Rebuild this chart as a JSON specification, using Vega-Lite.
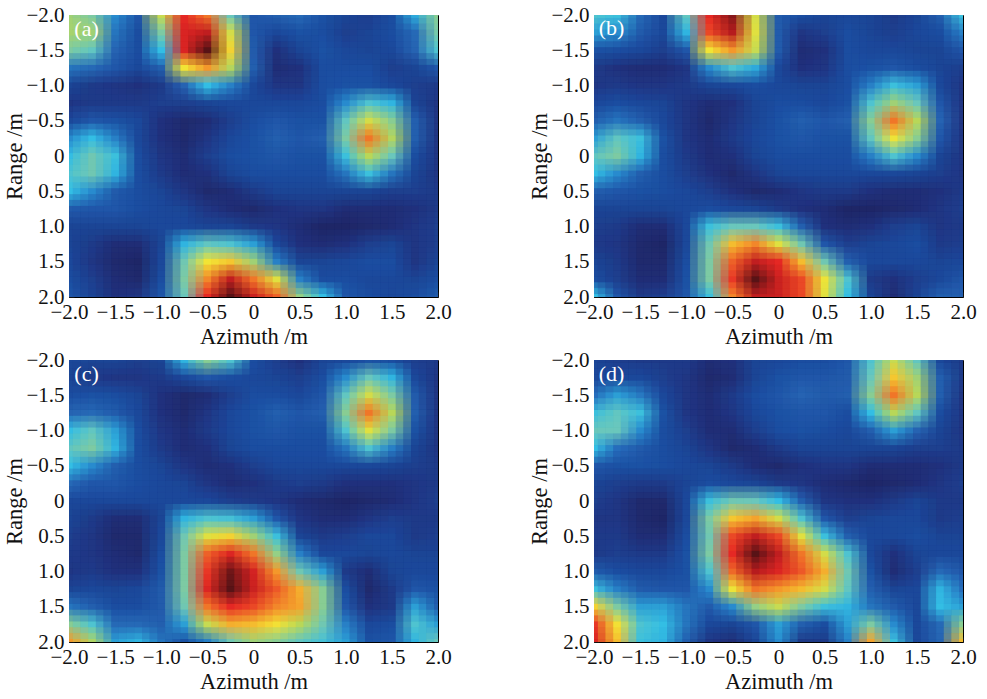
{"$schema":"https://vega.github.io/schema/vega-lite/v6.json","background":"white","padding":{"left":3,"top":3,"right":4,"bottom":2},"bounds":"flush","columns":2,"spacing":{"row":63,"column":156},
"config":{"view":{"stroke":"black","strokeWidth":1},"font":"Liberation Serif","axis":{"grid":false,"domain":false,"tickColor":"#111","tickSize":-5,"tickWidth":1,"labelFont":"Liberation Serif","labelFontSize":21,"labelColor":"#111","titleFont":"Liberation Serif","titleFontSize":22.5,"titleFontWeight":"normal","titleColor":"#111","labelOverlap":false,"labelFlush":false,"labelBound":false,"zindex":1}},
"datasets":{
"la":[{"x":-1.81,"y":-1.8,"t":"(a)"}],"lb":[{"x":-1.81,"y":-1.82,"t":"(b)"}],"lc":[{"x":-1.81,"y":-1.8,"t":"(c)"}],"ld":[{"x":-1.81,"y":-1.8,"t":"(d)"}],
"a":[
{"x":-2,"y":-2,"v":42},{"x":-1.75,"y":-2,"v":36},{"x":-1.5,"y":-2,"v":22},{"x":-1.25,"y":-2,"v":12},{"x":-1,"y":-2,"v":48},{"x":-0.75,"y":-2,"v":82},{"x":-0.5,"y":-2,"v":72},{"x":-0.25,"y":-2,"v":33},{"x":0,"y":-2,"v":12},{"x":0.25,"y":-2,"v":14},{"x":0.5,"y":-2,"v":16},{"x":0.75,"y":-2,"v":11},{"x":1,"y":-2,"v":8},{"x":1.25,"y":-2,"v":7},{"x":1.5,"y":-2,"v":10},{"x":1.75,"y":-2,"v":25},{"x":2,"y":-2,"v":38},
{"x":-2,"y":-1.75,"v":43},{"x":-1.75,"y":-1.75,"v":42},{"x":-1.5,"y":-1.75,"v":18},{"x":-1.25,"y":-1.75,"v":10},{"x":-1,"y":-1.75,"v":36},{"x":-0.75,"y":-1.75,"v":85},{"x":-0.5,"y":-1.75,"v":90},{"x":-0.25,"y":-1.75,"v":50},{"x":0,"y":-1.75,"v":12},{"x":0.25,"y":-1.75,"v":9},{"x":0.5,"y":-1.75,"v":11},{"x":0.75,"y":-1.75,"v":10},{"x":1,"y":-1.75,"v":7},{"x":1.25,"y":-1.75,"v":8},{"x":1.5,"y":-1.75,"v":10},{"x":1.75,"y":-1.75,"v":16},{"x":2,"y":-1.75,"v":35},
{"x":-2,"y":-1.5,"v":36},{"x":-1.75,"y":-1.5,"v":32},{"x":-1.5,"y":-1.5,"v":15},{"x":-1.25,"y":-1.5,"v":10},{"x":-1,"y":-1.5,"v":27},{"x":-0.75,"y":-1.5,"v":85},{"x":-0.5,"y":-1.5,"v":100},{"x":-0.25,"y":-1.5,"v":58},{"x":0,"y":-1.5,"v":13},{"x":0.25,"y":-1.5,"v":4},{"x":0.5,"y":-1.5,"v":8},{"x":0.75,"y":-1.5,"v":11},{"x":1,"y":-1.5,"v":9},{"x":1.25,"y":-1.5,"v":8},{"x":1.5,"y":-1.5,"v":9},{"x":1.75,"y":-1.5,"v":15},{"x":2,"y":-1.5,"v":30},
{"x":-2,"y":-1.25,"v":18},{"x":-1.75,"y":-1.25,"v":16},{"x":-1.5,"y":-1.25,"v":12},{"x":-1.25,"y":-1.25,"v":9},{"x":-1,"y":-1.25,"v":14},{"x":-0.75,"y":-1.25,"v":55},{"x":-0.5,"y":-1.25,"v":68},{"x":-0.25,"y":-1.25,"v":45},{"x":0,"y":-1.25,"v":14},{"x":0.25,"y":-1.25,"v":3},{"x":0.5,"y":-1.25,"v":4},{"x":0.75,"y":-1.25,"v":10},{"x":1,"y":-1.25,"v":10},{"x":1.25,"y":-1.25,"v":10},{"x":1.5,"y":-1.25,"v":7},{"x":1.75,"y":-1.25,"v":8},{"x":2,"y":-1.25,"v":12},
{"x":-2,"y":-1,"v":8},{"x":-1.75,"y":-1,"v":6},{"x":-1.5,"y":-1,"v":5},{"x":-1.25,"y":-1,"v":4},{"x":-1,"y":-1,"v":6},{"x":-0.75,"y":-1,"v":15},{"x":-0.5,"y":-1,"v":27},{"x":-0.25,"y":-1,"v":20},{"x":0,"y":-1,"v":9},{"x":0.25,"y":-1,"v":5},{"x":0.5,"y":-1,"v":5},{"x":0.75,"y":-1,"v":10},{"x":1,"y":-1,"v":11},{"x":1.25,"y":-1,"v":11},{"x":1.5,"y":-1,"v":9},{"x":1.75,"y":-1,"v":7},{"x":2,"y":-1,"v":6},
{"x":-2,"y":-0.75,"v":5},{"x":-1.75,"y":-0.75,"v":6},{"x":-1.5,"y":-0.75,"v":6},{"x":-1.25,"y":-0.75,"v":6},{"x":-1,"y":-0.75,"v":7},{"x":-0.75,"y":-0.75,"v":7},{"x":-0.5,"y":-0.75,"v":8},{"x":-0.25,"y":-0.75,"v":9},{"x":0,"y":-0.75,"v":9},{"x":0.25,"y":-0.75,"v":9},{"x":0.5,"y":-0.75,"v":9},{"x":0.75,"y":-0.75,"v":10},{"x":1,"y":-0.75,"v":22},{"x":1.25,"y":-0.75,"v":30},{"x":1.5,"y":-0.75,"v":26},{"x":1.75,"y":-0.75,"v":8},{"x":2,"y":-0.75,"v":5},
{"x":-2,"y":-0.5,"v":9},{"x":-1.75,"y":-0.5,"v":12},{"x":-1.5,"y":-0.5,"v":11},{"x":-1.25,"y":-0.5,"v":9},{"x":-1,"y":-0.5,"v":4},{"x":-0.75,"y":-0.5,"v":2},{"x":-0.5,"y":-0.5,"v":3},{"x":-0.25,"y":-0.5,"v":7},{"x":0,"y":-0.5,"v":10},{"x":0.25,"y":-0.5,"v":12},{"x":0.5,"y":-0.5,"v":11},{"x":0.75,"y":-0.5,"v":11},{"x":1,"y":-0.5,"v":32},{"x":1.25,"y":-0.5,"v":50},{"x":1.5,"y":-0.5,"v":38},{"x":1.75,"y":-0.5,"v":14},{"x":2,"y":-0.5,"v":5},
{"x":-2,"y":-0.25,"v":22},{"x":-1.75,"y":-0.25,"v":27},{"x":-1.5,"y":-0.25,"v":20},{"x":-1.25,"y":-0.25,"v":9},{"x":-1,"y":-0.25,"v":4},{"x":-0.75,"y":-0.25,"v":2},{"x":-0.5,"y":-0.25,"v":5},{"x":-0.25,"y":-0.25,"v":9},{"x":0,"y":-0.25,"v":11},{"x":0.25,"y":-0.25,"v":14},{"x":0.5,"y":-0.25,"v":12},{"x":0.75,"y":-0.25,"v":14},{"x":1,"y":-0.25,"v":36},{"x":1.25,"y":-0.25,"v":72},{"x":1.5,"y":-0.25,"v":45},{"x":1.75,"y":-0.25,"v":14},{"x":2,"y":-0.25,"v":5},
{"x":-2,"y":0,"v":27},{"x":-1.75,"y":0,"v":34},{"x":-1.5,"y":0,"v":28},{"x":-1.25,"y":0,"v":10},{"x":-1,"y":0,"v":5},{"x":-0.75,"y":0,"v":3},{"x":-0.5,"y":0,"v":7},{"x":-0.25,"y":0,"v":10},{"x":0,"y":0,"v":11},{"x":0.25,"y":0,"v":12},{"x":0.5,"y":0,"v":11},{"x":0.75,"y":0,"v":11},{"x":1,"y":0,"v":28},{"x":1.25,"y":0,"v":46},{"x":1.5,"y":0,"v":33},{"x":1.75,"y":0,"v":10},{"x":2,"y":0,"v":5},
{"x":-2,"y":0.25,"v":30},{"x":-1.75,"y":0.25,"v":34},{"x":-1.5,"y":0.25,"v":26},{"x":-1.25,"y":0.25,"v":10},{"x":-1,"y":0.25,"v":6},{"x":-0.75,"y":0.25,"v":3},{"x":-0.5,"y":0.25,"v":4},{"x":-0.25,"y":0.25,"v":8},{"x":0,"y":0.25,"v":10},{"x":0.25,"y":0.25,"v":10},{"x":0.5,"y":0.25,"v":10},{"x":0.75,"y":0.25,"v":10},{"x":1,"y":0.25,"v":18},{"x":1.25,"y":0.25,"v":28},{"x":1.5,"y":0.25,"v":18},{"x":1.75,"y":0.25,"v":8},{"x":2,"y":0.25,"v":5},
{"x":-2,"y":0.5,"v":27},{"x":-1.75,"y":0.5,"v":22},{"x":-1.5,"y":0.5,"v":13},{"x":-1.25,"y":0.5,"v":10},{"x":-1,"y":0.5,"v":8},{"x":-0.75,"y":0.5,"v":5},{"x":-0.5,"y":0.5,"v":2},{"x":-0.25,"y":0.5,"v":3},{"x":0,"y":0.5,"v":6},{"x":0.25,"y":0.5,"v":8},{"x":0.5,"y":0.5,"v":8},{"x":0.75,"y":0.5,"v":8},{"x":1,"y":0.5,"v":8},{"x":1.25,"y":0.5,"v":8},{"x":1.5,"y":0.5,"v":7},{"x":1.75,"y":0.5,"v":7},{"x":2,"y":0.5,"v":6},
{"x":-2,"y":0.75,"v":13},{"x":-1.75,"y":0.75,"v":12},{"x":-1.5,"y":0.75,"v":12},{"x":-1.25,"y":0.75,"v":10},{"x":-1,"y":0.75,"v":9},{"x":-0.75,"y":0.75,"v":8},{"x":-0.5,"y":0.75,"v":5},{"x":-0.25,"y":0.75,"v":3},{"x":0,"y":0.75,"v":2},{"x":0.25,"y":0.75,"v":4},{"x":0.5,"y":0.75,"v":5},{"x":0.75,"y":0.75,"v":5},{"x":1,"y":0.75,"v":3},{"x":1.25,"y":0.75,"v":3},{"x":1.5,"y":0.75,"v":3},{"x":1.75,"y":0.75,"v":4},{"x":2,"y":0.75,"v":6},
{"x":-2,"y":1,"v":8},{"x":-1.75,"y":1,"v":8},{"x":-1.5,"y":1,"v":8},{"x":-1.25,"y":1,"v":8},{"x":-1,"y":1,"v":9},{"x":-0.75,"y":1,"v":9},{"x":-0.5,"y":1,"v":8},{"x":-0.25,"y":1,"v":8},{"x":0,"y":1,"v":6},{"x":0.25,"y":1,"v":5},{"x":0.5,"y":1,"v":3},{"x":0.75,"y":1,"v":1},{"x":1,"y":1,"v":1},{"x":1.25,"y":1,"v":2},{"x":1.5,"y":1,"v":3},{"x":1.75,"y":1,"v":5},{"x":2,"y":1,"v":7},
{"x":-2,"y":1.25,"v":8},{"x":-1.75,"y":1.25,"v":6},{"x":-1.5,"y":1.25,"v":3},{"x":-1.25,"y":1.25,"v":3},{"x":-1,"y":1.25,"v":8},{"x":-0.75,"y":1.25,"v":26},{"x":-0.5,"y":1.25,"v":32},{"x":-0.25,"y":1.25,"v":30},{"x":0,"y":1.25,"v":24},{"x":0.25,"y":1.25,"v":9},{"x":0.5,"y":1.25,"v":4},{"x":0.75,"y":1.25,"v":3},{"x":1,"y":1.25,"v":4},{"x":1.25,"y":1.25,"v":7},{"x":1.5,"y":1.25,"v":8},{"x":1.75,"y":1.25,"v":5},{"x":2,"y":1.25,"v":7},
{"x":-2,"y":1.5,"v":9},{"x":-1.75,"y":1.5,"v":5},{"x":-1.5,"y":1.5,"v":2},{"x":-1.25,"y":1.5,"v":1},{"x":-1,"y":1.5,"v":9},{"x":-0.75,"y":1.5,"v":34},{"x":-0.5,"y":1.5,"v":55},{"x":-0.25,"y":1.5,"v":60},{"x":0,"y":1.5,"v":42},{"x":0.25,"y":1.5,"v":20},{"x":0.5,"y":1.5,"v":8},{"x":0.75,"y":1.5,"v":8},{"x":1,"y":1.5,"v":9},{"x":1.25,"y":1.5,"v":10},{"x":1.5,"y":1.5,"v":10},{"x":1.75,"y":1.5,"v":5},{"x":2,"y":1.5,"v":8},
{"x":-2,"y":1.75,"v":10},{"x":-1.75,"y":1.75,"v":7},{"x":-1.5,"y":1.75,"v":3},{"x":-1.25,"y":1.75,"v":2},{"x":-1,"y":1.75,"v":10},{"x":-0.75,"y":1.75,"v":36},{"x":-0.5,"y":1.75,"v":70},{"x":-0.25,"y":1.75,"v":90},{"x":0,"y":1.75,"v":72},{"x":0.25,"y":1.75,"v":52},{"x":0.5,"y":1.75,"v":20},{"x":0.75,"y":1.75,"v":10},{"x":1,"y":1.75,"v":10},{"x":1.25,"y":1.75,"v":9},{"x":1.5,"y":1.75,"v":9},{"x":1.75,"y":1.75,"v":8},{"x":2,"y":1.75,"v":10},
{"x":-2,"y":2,"v":12},{"x":-1.75,"y":2,"v":8},{"x":-1.5,"y":2,"v":4},{"x":-1.25,"y":2,"v":5},{"x":-1,"y":2,"v":12},{"x":-0.75,"y":2,"v":33},{"x":-0.5,"y":2,"v":82},{"x":-0.25,"y":2,"v":100},{"x":0,"y":2,"v":88},{"x":0.25,"y":2,"v":75},{"x":0.5,"y":2,"v":40},{"x":0.75,"y":2,"v":27},{"x":1,"y":2,"v":12},{"x":1.25,"y":2,"v":10},{"x":1.5,"y":2,"v":9},{"x":1.75,"y":2,"v":10},{"x":2,"y":2,"v":13}
],
"b":[
{"x":-2,"y":-2,"v":30},{"x":-1.75,"y":-2,"v":28},{"x":-1.5,"y":-2,"v":16},{"x":-1.25,"y":-2,"v":9},{"x":-1,"y":-2,"v":32},{"x":-0.75,"y":-2,"v":82},{"x":-0.5,"y":-2,"v":96},{"x":-0.25,"y":-2,"v":50},{"x":0,"y":-2,"v":13},{"x":0.25,"y":-2,"v":10},{"x":0.5,"y":-2,"v":8},{"x":0.75,"y":-2,"v":9},{"x":1,"y":-2,"v":8},{"x":1.25,"y":-2,"v":6},{"x":1.5,"y":-2,"v":8},{"x":1.75,"y":-2,"v":14},{"x":2,"y":-2,"v":28},
{"x":-2,"y":-1.75,"v":24},{"x":-1.75,"y":-1.75,"v":22},{"x":-1.5,"y":-1.75,"v":13},{"x":-1.25,"y":-1.75,"v":9},{"x":-1,"y":-1.75,"v":26},{"x":-0.75,"y":-1.75,"v":78},{"x":-0.5,"y":-1.75,"v":92},{"x":-0.25,"y":-1.75,"v":52},{"x":0,"y":-1.75,"v":13},{"x":0.25,"y":-1.75,"v":5},{"x":0.5,"y":-1.75,"v":7},{"x":0.75,"y":-1.75,"v":10},{"x":1,"y":-1.75,"v":8},{"x":1.25,"y":-1.75,"v":7},{"x":1.5,"y":-1.75,"v":9},{"x":1.75,"y":-1.75,"v":10},{"x":2,"y":-1.75,"v":20},
{"x":-2,"y":-1.5,"v":11},{"x":-1.75,"y":-1.5,"v":10},{"x":-1.5,"y":-1.5,"v":9},{"x":-1.25,"y":-1.5,"v":7},{"x":-1,"y":-1.5,"v":12},{"x":-0.75,"y":-1.5,"v":55},{"x":-0.5,"y":-1.5,"v":68},{"x":-0.25,"y":-1.5,"v":48},{"x":0,"y":-1.5,"v":13},{"x":0.25,"y":-1.5,"v":3},{"x":0.5,"y":-1.5,"v":4},{"x":0.75,"y":-1.5,"v":10},{"x":1,"y":-1.5,"v":9},{"x":1.25,"y":-1.5,"v":9},{"x":1.5,"y":-1.5,"v":8},{"x":1.75,"y":-1.5,"v":8},{"x":2,"y":-1.5,"v":12},
{"x":-2,"y":-1.25,"v":6},{"x":-1.75,"y":-1.25,"v":4},{"x":-1.5,"y":-1.25,"v":3},{"x":-1.25,"y":-1.25,"v":3},{"x":-1,"y":-1.25,"v":5},{"x":-0.75,"y":-1.25,"v":22},{"x":-0.5,"y":-1.25,"v":30},{"x":-0.25,"y":-1.25,"v":25},{"x":0,"y":-1.25,"v":9},{"x":0.25,"y":-1.25,"v":4},{"x":0.5,"y":-1.25,"v":5},{"x":0.75,"y":-1.25,"v":10},{"x":1,"y":-1.25,"v":11},{"x":1.25,"y":-1.25,"v":12},{"x":1.5,"y":-1.25,"v":10},{"x":1.75,"y":-1.25,"v":8},{"x":2,"y":-1.25,"v":7},
{"x":-2,"y":-1,"v":5},{"x":-1.75,"y":-1,"v":6},{"x":-1.5,"y":-1,"v":5},{"x":-1.25,"y":-1,"v":5},{"x":-1,"y":-1,"v":6},{"x":-0.75,"y":-1,"v":8},{"x":-0.5,"y":-1,"v":9},{"x":-0.25,"y":-1,"v":10},{"x":0,"y":-1,"v":9},{"x":0.25,"y":-1,"v":8},{"x":0.5,"y":-1,"v":8},{"x":0.75,"y":-1,"v":10},{"x":1,"y":-1,"v":20},{"x":1.25,"y":-1,"v":28},{"x":1.5,"y":-1,"v":24},{"x":1.75,"y":-1,"v":9},{"x":2,"y":-1,"v":5},
{"x":-2,"y":-0.75,"v":9},{"x":-1.75,"y":-0.75,"v":10},{"x":-1.5,"y":-0.75,"v":9},{"x":-1.25,"y":-0.75,"v":8},{"x":-1,"y":-0.75,"v":5},{"x":-0.75,"y":-0.75,"v":3},{"x":-0.5,"y":-0.75,"v":4},{"x":-0.25,"y":-0.75,"v":8},{"x":0,"y":-0.75,"v":10},{"x":0.25,"y":-0.75,"v":10},{"x":0.5,"y":-0.75,"v":9},{"x":0.75,"y":-0.75,"v":11},{"x":1,"y":-0.75,"v":30},{"x":1.25,"y":-0.75,"v":42},{"x":1.5,"y":-0.75,"v":33},{"x":1.75,"y":-0.75,"v":12},{"x":2,"y":-0.75,"v":5},
{"x":-2,"y":-0.5,"v":14},{"x":-1.75,"y":-0.5,"v":18},{"x":-1.5,"y":-0.5,"v":14},{"x":-1.25,"y":-0.5,"v":9},{"x":-1,"y":-0.5,"v":5},{"x":-0.75,"y":-0.5,"v":2},{"x":-0.5,"y":-0.5,"v":5},{"x":-0.25,"y":-0.5,"v":8},{"x":0,"y":-0.5,"v":11},{"x":0.25,"y":-0.5,"v":14},{"x":0.5,"y":-0.5,"v":12},{"x":0.75,"y":-0.5,"v":14},{"x":1,"y":-0.5,"v":38},{"x":1.25,"y":-0.5,"v":72},{"x":1.5,"y":-0.5,"v":46},{"x":1.75,"y":-0.5,"v":15},{"x":2,"y":-0.5,"v":5},
{"x":-2,"y":-0.25,"v":24},{"x":-1.75,"y":-0.25,"v":32},{"x":-1.5,"y":-0.25,"v":28},{"x":-1.25,"y":-0.25,"v":11},{"x":-1,"y":-0.25,"v":5},{"x":-0.75,"y":-0.25,"v":3},{"x":-0.5,"y":-0.25,"v":6},{"x":-0.25,"y":-0.25,"v":9},{"x":0,"y":-0.25,"v":11},{"x":0.25,"y":-0.25,"v":12},{"x":0.5,"y":-0.25,"v":11},{"x":0.75,"y":-0.25,"v":11},{"x":1,"y":-0.25,"v":32},{"x":1.25,"y":-0.25,"v":54},{"x":1.5,"y":-0.25,"v":38},{"x":1.75,"y":-0.25,"v":12},{"x":2,"y":-0.25,"v":5},
{"x":-2,"y":0,"v":32},{"x":-1.75,"y":0,"v":36},{"x":-1.5,"y":0,"v":26},{"x":-1.25,"y":0,"v":10},{"x":-1,"y":0,"v":6},{"x":-0.75,"y":0,"v":3},{"x":-0.5,"y":0,"v":4},{"x":-0.25,"y":0,"v":8},{"x":0,"y":0,"v":10},{"x":0.25,"y":0,"v":10},{"x":0.5,"y":0,"v":10},{"x":0.75,"y":0,"v":10},{"x":1,"y":0,"v":20},{"x":1.25,"y":0,"v":30},{"x":1.5,"y":0,"v":22},{"x":1.75,"y":0,"v":8},{"x":2,"y":0,"v":5},
{"x":-2,"y":0.25,"v":27},{"x":-1.75,"y":0.25,"v":22},{"x":-1.5,"y":0.25,"v":14},{"x":-1.25,"y":0.25,"v":10},{"x":-1,"y":0.25,"v":7},{"x":-0.75,"y":0.25,"v":4},{"x":-0.5,"y":0.25,"v":2},{"x":-0.25,"y":0.25,"v":5},{"x":0,"y":0.25,"v":8},{"x":0.25,"y":0.25,"v":9},{"x":0.5,"y":0.25,"v":9},{"x":0.75,"y":0.25,"v":9},{"x":1,"y":0.25,"v":9},{"x":1.25,"y":0.25,"v":9},{"x":1.5,"y":0.25,"v":8},{"x":1.75,"y":0.25,"v":7},{"x":2,"y":0.25,"v":5},
{"x":-2,"y":0.5,"v":14},{"x":-1.75,"y":0.5,"v":12},{"x":-1.5,"y":0.5,"v":11},{"x":-1.25,"y":0.5,"v":10},{"x":-1,"y":0.5,"v":9},{"x":-0.75,"y":0.5,"v":7},{"x":-0.5,"y":0.5,"v":4},{"x":-0.25,"y":0.5,"v":2},{"x":0,"y":0.5,"v":3},{"x":0.25,"y":0.5,"v":5},{"x":0.5,"y":0.5,"v":6},{"x":0.75,"y":0.5,"v":6},{"x":1,"y":0.5,"v":4},{"x":1.25,"y":0.5,"v":3},{"x":1.5,"y":0.5,"v":3},{"x":1.75,"y":0.5,"v":4},{"x":2,"y":0.5,"v":6},
{"x":-2,"y":0.75,"v":8},{"x":-1.75,"y":0.75,"v":8},{"x":-1.5,"y":0.75,"v":8},{"x":-1.25,"y":0.75,"v":8},{"x":-1,"y":0.75,"v":9},{"x":-0.75,"y":0.75,"v":10},{"x":-0.5,"y":0.75,"v":9},{"x":-0.25,"y":0.75,"v":8},{"x":0,"y":0.75,"v":6},{"x":0.25,"y":0.75,"v":4},{"x":0.5,"y":0.75,"v":3},{"x":0.75,"y":0.75,"v":1},{"x":1,"y":0.75,"v":1},{"x":1.25,"y":0.75,"v":2},{"x":1.5,"y":0.75,"v":3},{"x":1.75,"y":0.75,"v":5},{"x":2,"y":0.75,"v":7},
{"x":-2,"y":1,"v":7},{"x":-1.75,"y":1,"v":6},{"x":-1.5,"y":1,"v":3},{"x":-1.25,"y":1,"v":3},{"x":-1,"y":1,"v":9},{"x":-0.75,"y":1,"v":28},{"x":-0.5,"y":1,"v":33},{"x":-0.25,"y":1,"v":33},{"x":0,"y":1,"v":28},{"x":0.25,"y":1,"v":14},{"x":0.5,"y":1,"v":4},{"x":0.75,"y":1,"v":3},{"x":1,"y":1,"v":4},{"x":1.25,"y":1,"v":7},{"x":1.5,"y":1,"v":8},{"x":1.75,"y":1,"v":5},{"x":2,"y":1,"v":6},
{"x":-2,"y":1.25,"v":6},{"x":-1.75,"y":1.25,"v":5},{"x":-1.5,"y":1.25,"v":2},{"x":-1.25,"y":1.25,"v":1},{"x":-1,"y":1.25,"v":9},{"x":-0.75,"y":1.25,"v":34},{"x":-0.5,"y":1.25,"v":62},{"x":-0.25,"y":1.25,"v":70},{"x":0,"y":1.25,"v":52},{"x":0.25,"y":1.25,"v":34},{"x":0.5,"y":1.25,"v":12},{"x":0.75,"y":1.25,"v":7},{"x":1,"y":1.25,"v":8},{"x":1.25,"y":1.25,"v":9},{"x":1.5,"y":1.25,"v":10},{"x":1.75,"y":1.25,"v":6},{"x":2,"y":1.25,"v":7},
{"x":-2,"y":1.5,"v":8},{"x":-1.75,"y":1.5,"v":6},{"x":-1.5,"y":1.5,"v":2},{"x":-1.25,"y":1.5,"v":2},{"x":-1,"y":1.5,"v":10},{"x":-0.75,"y":1.5,"v":36},{"x":-0.5,"y":1.5,"v":75},{"x":-0.25,"y":1.5,"v":90},{"x":0,"y":1.5,"v":82},{"x":0.25,"y":1.5,"v":62},{"x":0.5,"y":1.5,"v":34},{"x":0.75,"y":1.5,"v":14},{"x":1,"y":1.5,"v":9},{"x":1.25,"y":1.5,"v":9},{"x":1.5,"y":1.5,"v":9},{"x":1.75,"y":1.5,"v":8},{"x":2,"y":1.5,"v":9},
{"x":-2,"y":1.75,"v":10},{"x":-1.75,"y":1.75,"v":7},{"x":-1.5,"y":1.75,"v":3},{"x":-1.25,"y":1.75,"v":3},{"x":-1,"y":1.75,"v":11},{"x":-0.75,"y":1.75,"v":36},{"x":-0.5,"y":1.75,"v":80},{"x":-0.25,"y":1.75,"v":100},{"x":0,"y":1.75,"v":88},{"x":0.25,"y":1.75,"v":78},{"x":0.5,"y":1.75,"v":54},{"x":0.75,"y":1.75,"v":30},{"x":1,"y":1.75,"v":6},{"x":1.25,"y":1.75,"v":4},{"x":1.5,"y":1.75,"v":7},{"x":1.75,"y":1.75,"v":9},{"x":2,"y":1.75,"v":12},
{"x":-2,"y":2,"v":27},{"x":-1.75,"y":2,"v":12},{"x":-1.5,"y":2,"v":6},{"x":-1.25,"y":2,"v":7},{"x":-1,"y":2,"v":12},{"x":-0.75,"y":2,"v":28},{"x":-0.5,"y":2,"v":70},{"x":-0.25,"y":2,"v":90},{"x":0,"y":2,"v":88},{"x":0.25,"y":2,"v":78},{"x":0.5,"y":2,"v":52},{"x":0.75,"y":2,"v":27},{"x":1,"y":2,"v":8},{"x":1.25,"y":2,"v":3},{"x":1.5,"y":2,"v":8},{"x":1.75,"y":2,"v":14},{"x":2,"y":2,"v":14}
],
"c":[
{"x":-2,"y":-2,"v":9},{"x":-1.75,"y":-2,"v":8},{"x":-1.5,"y":-2,"v":8},{"x":-1.25,"y":-2,"v":7},{"x":-1,"y":-2,"v":8},{"x":-0.75,"y":-2,"v":26},{"x":-0.5,"y":-2,"v":38},{"x":-0.25,"y":-2,"v":30},{"x":0,"y":-2,"v":10},{"x":0.25,"y":-2,"v":7},{"x":0.5,"y":-2,"v":4},{"x":0.75,"y":-2,"v":8},{"x":1,"y":-2,"v":9},{"x":1.25,"y":-2,"v":11},{"x":1.5,"y":-2,"v":10},{"x":1.75,"y":-2,"v":7},{"x":2,"y":-2,"v":6},
{"x":-2,"y":-1.75,"v":8},{"x":-1.75,"y":-1.75,"v":6},{"x":-1.5,"y":-1.75,"v":5},{"x":-1.25,"y":-1.75,"v":5},{"x":-1,"y":-1.75,"v":6},{"x":-0.75,"y":-1.75,"v":9},{"x":-0.5,"y":-1.75,"v":12},{"x":-0.25,"y":-1.75,"v":10},{"x":0,"y":-1.75,"v":9},{"x":0.25,"y":-1.75,"v":8},{"x":0.5,"y":-1.75,"v":7},{"x":0.75,"y":-1.75,"v":10},{"x":1,"y":-1.75,"v":22},{"x":1.25,"y":-1.75,"v":33},{"x":1.5,"y":-1.75,"v":26},{"x":1.75,"y":-1.75,"v":9},{"x":2,"y":-1.75,"v":5},
{"x":-2,"y":-1.5,"v":10},{"x":-1.75,"y":-1.5,"v":11},{"x":-1.5,"y":-1.5,"v":10},{"x":-1.25,"y":-1.5,"v":8},{"x":-1,"y":-1.5,"v":4},{"x":-0.75,"y":-1.5,"v":2},{"x":-0.5,"y":-1.5,"v":3},{"x":-0.25,"y":-1.5,"v":7},{"x":0,"y":-1.5,"v":10},{"x":0.25,"y":-1.5,"v":10},{"x":0.5,"y":-1.5,"v":9},{"x":0.75,"y":-1.5,"v":12},{"x":1,"y":-1.5,"v":32},{"x":1.25,"y":-1.5,"v":50},{"x":1.5,"y":-1.5,"v":36},{"x":1.75,"y":-1.5,"v":13},{"x":2,"y":-1.5,"v":5},
{"x":-2,"y":-1.25,"v":15},{"x":-1.75,"y":-1.25,"v":16},{"x":-1.5,"y":-1.25,"v":13},{"x":-1.25,"y":-1.25,"v":9},{"x":-1,"y":-1.25,"v":4},{"x":-0.75,"y":-1.25,"v":2},{"x":-0.5,"y":-1.25,"v":5},{"x":-0.25,"y":-1.25,"v":9},{"x":0,"y":-1.25,"v":11},{"x":0.25,"y":-1.25,"v":14},{"x":0.5,"y":-1.25,"v":12},{"x":0.75,"y":-1.25,"v":14},{"x":1,"y":-1.25,"v":38},{"x":1.25,"y":-1.25,"v":72},{"x":1.5,"y":-1.25,"v":46},{"x":1.75,"y":-1.25,"v":14},{"x":2,"y":-1.25,"v":5},
{"x":-2,"y":-1,"v":27},{"x":-1.75,"y":-1,"v":32},{"x":-1.5,"y":-1,"v":24},{"x":-1.25,"y":-1,"v":10},{"x":-1,"y":-1,"v":5},{"x":-0.75,"y":-1,"v":3},{"x":-0.5,"y":-1,"v":6},{"x":-0.25,"y":-1,"v":9},{"x":0,"y":-1,"v":11},{"x":0.25,"y":-1,"v":12},{"x":0.5,"y":-1,"v":11},{"x":0.75,"y":-1,"v":11},{"x":1,"y":-1,"v":30},{"x":1.25,"y":-1,"v":52},{"x":1.5,"y":-1,"v":36},{"x":1.75,"y":-1,"v":11},{"x":2,"y":-1,"v":5},
{"x":-2,"y":-0.75,"v":32},{"x":-1.75,"y":-0.75,"v":36},{"x":-1.5,"y":-0.75,"v":26},{"x":-1.25,"y":-0.75,"v":10},{"x":-1,"y":-0.75,"v":6},{"x":-0.75,"y":-0.75,"v":3},{"x":-0.5,"y":-0.75,"v":4},{"x":-0.25,"y":-0.75,"v":8},{"x":0,"y":-0.75,"v":10},{"x":0.25,"y":-0.75,"v":10},{"x":0.5,"y":-0.75,"v":10},{"x":0.75,"y":-0.75,"v":10},{"x":1,"y":-0.75,"v":18},{"x":1.25,"y":-0.75,"v":30},{"x":1.5,"y":-0.75,"v":20},{"x":1.75,"y":-0.75,"v":8},{"x":2,"y":-0.75,"v":5},
{"x":-2,"y":-0.5,"v":27},{"x":-1.75,"y":-0.5,"v":22},{"x":-1.5,"y":-0.5,"v":14},{"x":-1.25,"y":-0.5,"v":10},{"x":-1,"y":-0.5,"v":8},{"x":-0.75,"y":-0.5,"v":5},{"x":-0.5,"y":-0.5,"v":3},{"x":-0.25,"y":-0.5,"v":4},{"x":0,"y":-0.5,"v":7},{"x":0.25,"y":-0.5,"v":9},{"x":0.5,"y":-0.5,"v":9},{"x":0.75,"y":-0.5,"v":9},{"x":1,"y":-0.5,"v":9},{"x":1.25,"y":-0.5,"v":9},{"x":1.5,"y":-0.5,"v":8},{"x":1.75,"y":-0.5,"v":7},{"x":2,"y":-0.5,"v":6},
{"x":-2,"y":-0.25,"v":16},{"x":-1.75,"y":-0.25,"v":12},{"x":-1.5,"y":-0.25,"v":12},{"x":-1.25,"y":-0.25,"v":10},{"x":-1,"y":-0.25,"v":9},{"x":-0.75,"y":-0.25,"v":8},{"x":-0.5,"y":-0.25,"v":5},{"x":-0.25,"y":-0.25,"v":3},{"x":0,"y":-0.25,"v":4},{"x":0.25,"y":-0.25,"v":6},{"x":0.5,"y":-0.25,"v":7},{"x":0.75,"y":-0.25,"v":6},{"x":1,"y":-0.25,"v":4},{"x":1.25,"y":-0.25,"v":4},{"x":1.5,"y":-0.25,"v":4},{"x":1.75,"y":-0.25,"v":5},{"x":2,"y":-0.25,"v":6},
{"x":-2,"y":0,"v":9},{"x":-1.75,"y":0,"v":9},{"x":-1.5,"y":0,"v":9},{"x":-1.25,"y":0,"v":9},{"x":-1,"y":0,"v":9},{"x":-0.75,"y":0,"v":9},{"x":-0.5,"y":0,"v":9},{"x":-0.25,"y":0,"v":7},{"x":0,"y":0,"v":6},{"x":0.25,"y":0,"v":5},{"x":0.5,"y":0,"v":3},{"x":0.75,"y":0,"v":2},{"x":1,"y":0,"v":1},{"x":1.25,"y":0,"v":2},{"x":1.5,"y":0,"v":3},{"x":1.75,"y":0,"v":5},{"x":2,"y":0,"v":7},
{"x":-2,"y":0.25,"v":8},{"x":-1.75,"y":0.25,"v":6},{"x":-1.5,"y":0.25,"v":3},{"x":-1.25,"y":0.25,"v":3},{"x":-1,"y":0.25,"v":8},{"x":-0.75,"y":0.25,"v":26},{"x":-0.5,"y":0.25,"v":30},{"x":-0.25,"y":0.25,"v":29},{"x":0,"y":0.25,"v":24},{"x":0.25,"y":0.25,"v":12},{"x":0.5,"y":0.25,"v":5},{"x":0.75,"y":0.25,"v":3},{"x":1,"y":0.25,"v":3},{"x":1.25,"y":0.25,"v":5},{"x":1.5,"y":0.25,"v":7},{"x":1.75,"y":0.25,"v":6},{"x":2,"y":0.25,"v":6},
{"x":-2,"y":0.5,"v":7},{"x":-1.75,"y":0.5,"v":5},{"x":-1.5,"y":0.5,"v":2},{"x":-1.25,"y":0.5,"v":2},{"x":-1,"y":0.5,"v":9},{"x":-0.75,"y":0.5,"v":34},{"x":-0.5,"y":0.5,"v":52},{"x":-0.25,"y":0.5,"v":58},{"x":0,"y":0.5,"v":42},{"x":0.25,"y":0.5,"v":28},{"x":0.5,"y":0.5,"v":8},{"x":0.75,"y":0.5,"v":6},{"x":1,"y":0.5,"v":7},{"x":1.25,"y":0.5,"v":9},{"x":1.5,"y":0.5,"v":9},{"x":1.75,"y":0.5,"v":6},{"x":2,"y":0.5,"v":7},
{"x":-2,"y":0.75,"v":6},{"x":-1.75,"y":0.75,"v":5},{"x":-1.5,"y":0.75,"v":3},{"x":-1.25,"y":0.75,"v":2},{"x":-1,"y":0.75,"v":10},{"x":-0.75,"y":0.75,"v":36},{"x":-0.5,"y":0.75,"v":75},{"x":-0.25,"y":0.75,"v":84},{"x":0,"y":0.75,"v":72},{"x":0.25,"y":0.75,"v":40},{"x":0.5,"y":0.75,"v":20},{"x":0.75,"y":0.75,"v":9},{"x":1,"y":0.75,"v":9},{"x":1.25,"y":0.75,"v":8},{"x":1.5,"y":0.75,"v":9},{"x":1.75,"y":0.75,"v":8},{"x":2,"y":0.75,"v":8},
{"x":-2,"y":1,"v":5},{"x":-1.75,"y":1,"v":6},{"x":-1.5,"y":1,"v":4},{"x":-1.25,"y":1,"v":4},{"x":-1,"y":1,"v":11},{"x":-0.75,"y":1,"v":36},{"x":-0.5,"y":1,"v":80},{"x":-0.25,"y":1,"v":98},{"x":0,"y":1,"v":86},{"x":0.25,"y":1,"v":68},{"x":0.5,"y":1,"v":34},{"x":0.75,"y":1,"v":24},{"x":1,"y":1,"v":6},{"x":1.25,"y":1,"v":3},{"x":1.5,"y":1,"v":8},{"x":1.75,"y":1,"v":9},{"x":2,"y":1,"v":9},
{"x":-2,"y":1.25,"v":8},{"x":-1.75,"y":1.25,"v":9},{"x":-1.5,"y":1.25,"v":8},{"x":-1.25,"y":1.25,"v":9},{"x":-1,"y":1.25,"v":13},{"x":-0.75,"y":1.25,"v":36},{"x":-0.5,"y":1.25,"v":84},{"x":-0.25,"y":1.25,"v":100},{"x":0,"y":1.25,"v":88},{"x":0.25,"y":1.25,"v":76},{"x":0.5,"y":1.25,"v":64},{"x":0.75,"y":1.25,"v":38},{"x":1,"y":1.25,"v":10},{"x":1.25,"y":1.25,"v":2},{"x":1.5,"y":1.25,"v":6},{"x":1.75,"y":1.25,"v":12},{"x":2,"y":1.25,"v":11},
{"x":-2,"y":1.5,"v":18},{"x":-1.75,"y":1.5,"v":14},{"x":-1.5,"y":1.5,"v":10},{"x":-1.25,"y":1.5,"v":10},{"x":-1,"y":1.5,"v":13},{"x":-0.75,"y":1.5,"v":34},{"x":-0.5,"y":1.5,"v":72},{"x":-0.25,"y":1.5,"v":82},{"x":0,"y":1.5,"v":78},{"x":0.25,"y":1.5,"v":70},{"x":0.5,"y":1.5,"v":66},{"x":0.75,"y":1.5,"v":38},{"x":1,"y":1.5,"v":12},{"x":1.25,"y":1.5,"v":4},{"x":1.5,"y":1.5,"v":6},{"x":1.75,"y":1.5,"v":24},{"x":2,"y":1.5,"v":14},
{"x":-2,"y":1.75,"v":38},{"x":-1.75,"y":1.75,"v":30},{"x":-1.5,"y":1.75,"v":16},{"x":-1.25,"y":1.75,"v":16},{"x":-1,"y":1.75,"v":14},{"x":-0.75,"y":1.75,"v":24},{"x":-0.5,"y":1.75,"v":48},{"x":-0.25,"y":1.75,"v":64},{"x":0,"y":1.75,"v":62},{"x":0.25,"y":1.75,"v":56},{"x":0.5,"y":1.75,"v":46},{"x":0.75,"y":1.75,"v":34},{"x":1,"y":1.75,"v":20},{"x":1.25,"y":1.75,"v":9},{"x":1.5,"y":1.75,"v":10},{"x":1.75,"y":1.75,"v":30},{"x":2,"y":1.75,"v":24},
{"x":-2,"y":2,"v":68},{"x":-1.75,"y":2,"v":44},{"x":-1.5,"y":2,"v":24},{"x":-1.25,"y":2,"v":26},{"x":-1,"y":2,"v":18},{"x":-0.75,"y":2,"v":11},{"x":-0.5,"y":2,"v":20},{"x":-0.25,"y":2,"v":34},{"x":0,"y":2,"v":42},{"x":0.25,"y":2,"v":38},{"x":0.5,"y":2,"v":32},{"x":0.75,"y":2,"v":29},{"x":1,"y":2,"v":24},{"x":1.25,"y":2,"v":11},{"x":1.5,"y":2,"v":12},{"x":1.75,"y":2,"v":26},{"x":2,"y":2,"v":33}
],
"d":[
{"x":-2,"y":-2,"v":8},{"x":-1.75,"y":-2,"v":7},{"x":-1.5,"y":-2,"v":6},{"x":-1.25,"y":-2,"v":6},{"x":-1,"y":-2,"v":6},{"x":-0.75,"y":-2,"v":3},{"x":-0.5,"y":-2,"v":4},{"x":-0.25,"y":-2,"v":8},{"x":0,"y":-2,"v":9},{"x":0.25,"y":-2,"v":10},{"x":0.5,"y":-2,"v":10},{"x":0.75,"y":-2,"v":12},{"x":1,"y":-2,"v":30},{"x":1.25,"y":-2,"v":48},{"x":1.5,"y":-2,"v":32},{"x":1.75,"y":-2,"v":9},{"x":2,"y":-2,"v":6},
{"x":-2,"y":-1.75,"v":9},{"x":-1.75,"y":-1.75,"v":9},{"x":-1.5,"y":-1.75,"v":9},{"x":-1.25,"y":-1.75,"v":7},{"x":-1,"y":-1.75,"v":5},{"x":-0.75,"y":-1.75,"v":2},{"x":-0.5,"y":-1.75,"v":3},{"x":-0.25,"y":-1.75,"v":8},{"x":0,"y":-1.75,"v":11},{"x":0.25,"y":-1.75,"v":12},{"x":0.5,"y":-1.75,"v":12},{"x":0.75,"y":-1.75,"v":13},{"x":1,"y":-1.75,"v":33},{"x":1.25,"y":-1.75,"v":60},{"x":1.5,"y":-1.75,"v":42},{"x":1.75,"y":-1.75,"v":14},{"x":2,"y":-1.75,"v":6},
{"x":-2,"y":-1.5,"v":17},{"x":-1.75,"y":-1.5,"v":24},{"x":-1.5,"y":-1.5,"v":19},{"x":-1.25,"y":-1.5,"v":9},{"x":-1,"y":-1.5,"v":5},{"x":-0.75,"y":-1.5,"v":3},{"x":-0.5,"y":-1.5,"v":6},{"x":-0.25,"y":-1.5,"v":10},{"x":0,"y":-1.5,"v":12},{"x":0.25,"y":-1.5,"v":15},{"x":0.5,"y":-1.5,"v":13},{"x":0.75,"y":-1.5,"v":14},{"x":1,"y":-1.5,"v":38},{"x":1.25,"y":-1.5,"v":72},{"x":1.5,"y":-1.5,"v":46},{"x":1.75,"y":-1.5,"v":14},{"x":2,"y":-1.5,"v":5},
{"x":-2,"y":-1.25,"v":28},{"x":-1.75,"y":-1.25,"v":32},{"x":-1.5,"y":-1.25,"v":28},{"x":-1.25,"y":-1.25,"v":11},{"x":-1,"y":-1.25,"v":5},{"x":-0.75,"y":-1.25,"v":3},{"x":-0.5,"y":-1.25,"v":5},{"x":-0.25,"y":-1.25,"v":9},{"x":0,"y":-1.25,"v":11},{"x":0.25,"y":-1.25,"v":12},{"x":0.5,"y":-1.25,"v":12},{"x":0.75,"y":-1.25,"v":10},{"x":1,"y":-1.25,"v":27},{"x":1.25,"y":-1.25,"v":46},{"x":1.5,"y":-1.25,"v":32},{"x":1.75,"y":-1.25,"v":10},{"x":2,"y":-1.25,"v":5},
{"x":-2,"y":-1,"v":33},{"x":-1.75,"y":-1,"v":33},{"x":-1.5,"y":-1,"v":22},{"x":-1.25,"y":-1,"v":10},{"x":-1,"y":-1,"v":7},{"x":-0.75,"y":-1,"v":3},{"x":-0.5,"y":-1,"v":3},{"x":-0.25,"y":-1,"v":7},{"x":0,"y":-1,"v":10},{"x":0.25,"y":-1,"v":11},{"x":0.5,"y":-1,"v":10},{"x":0.75,"y":-1,"v":9},{"x":1,"y":-1,"v":14},{"x":1.25,"y":-1,"v":24},{"x":1.5,"y":-1,"v":15},{"x":1.75,"y":-1,"v":8},{"x":2,"y":-1,"v":5},
{"x":-2,"y":-0.75,"v":27},{"x":-1.75,"y":-0.75,"v":17},{"x":-1.5,"y":-0.75,"v":13},{"x":-1.25,"y":-0.75,"v":10},{"x":-1,"y":-0.75,"v":8},{"x":-0.75,"y":-0.75,"v":5},{"x":-0.5,"y":-0.75,"v":2},{"x":-0.25,"y":-0.75,"v":3},{"x":0,"y":-0.75,"v":6},{"x":0.25,"y":-0.75,"v":8},{"x":0.5,"y":-0.75,"v":8},{"x":0.75,"y":-0.75,"v":8},{"x":1,"y":-0.75,"v":8},{"x":1.25,"y":-0.75,"v":8},{"x":1.5,"y":-0.75,"v":7},{"x":1.75,"y":-0.75,"v":7},{"x":2,"y":-0.75,"v":6},
{"x":-2,"y":-0.5,"v":12},{"x":-1.75,"y":-0.5,"v":11},{"x":-1.5,"y":-0.5,"v":11},{"x":-1.25,"y":-0.5,"v":10},{"x":-1,"y":-0.5,"v":9},{"x":-0.75,"y":-0.5,"v":8},{"x":-0.5,"y":-0.5,"v":6},{"x":-0.25,"y":-0.5,"v":3},{"x":0,"y":-0.5,"v":2},{"x":0.25,"y":-0.5,"v":4},{"x":0.5,"y":-0.5,"v":5},{"x":0.75,"y":-0.5,"v":5},{"x":1,"y":-0.5,"v":3},{"x":1.25,"y":-0.5,"v":3},{"x":1.5,"y":-0.5,"v":3},{"x":1.75,"y":-0.5,"v":4},{"x":2,"y":-0.5,"v":6},
{"x":-2,"y":-0.25,"v":8},{"x":-1.75,"y":-0.25,"v":7},{"x":-1.5,"y":-0.25,"v":6},{"x":-1.25,"y":-0.25,"v":6},{"x":-1,"y":-0.25,"v":8},{"x":-0.75,"y":-0.25,"v":10},{"x":-0.5,"y":-0.25,"v":9},{"x":-0.25,"y":-0.25,"v":8},{"x":0,"y":-0.25,"v":6},{"x":0.25,"y":-0.25,"v":5},{"x":0.5,"y":-0.25,"v":3},{"x":0.75,"y":-0.25,"v":2},{"x":1,"y":-0.25,"v":1},{"x":1.25,"y":-0.25,"v":2},{"x":1.5,"y":-0.25,"v":3},{"x":1.75,"y":-0.25,"v":5},{"x":2,"y":-0.25,"v":7},
{"x":-2,"y":0,"v":7},{"x":-1.75,"y":0,"v":5},{"x":-1.5,"y":0,"v":2},{"x":-1.25,"y":0,"v":2},{"x":-1,"y":0,"v":9},{"x":-0.75,"y":0,"v":28},{"x":-0.5,"y":0,"v":34},{"x":-0.25,"y":0,"v":33},{"x":0,"y":0,"v":27},{"x":0.25,"y":0,"v":14},{"x":0.5,"y":0,"v":5},{"x":0.75,"y":0,"v":4},{"x":1,"y":0,"v":4},{"x":1.25,"y":0,"v":6},{"x":1.5,"y":0,"v":8},{"x":1.75,"y":0,"v":6},{"x":2,"y":0,"v":6},
{"x":-2,"y":0.25,"v":5},{"x":-1.75,"y":0.25,"v":5},{"x":-1.5,"y":0.25,"v":2},{"x":-1.25,"y":0.25,"v":1},{"x":-1,"y":0.25,"v":9},{"x":-0.75,"y":0.25,"v":36},{"x":-0.5,"y":0.25,"v":60},{"x":-0.25,"y":0.25,"v":66},{"x":0,"y":0.25,"v":50},{"x":0.25,"y":0.25,"v":30},{"x":0.5,"y":0.25,"v":12},{"x":0.75,"y":0.25,"v":7},{"x":1,"y":0.25,"v":8},{"x":1.25,"y":0.25,"v":9},{"x":1.5,"y":0.25,"v":9},{"x":1.75,"y":0.25,"v":6},{"x":2,"y":0.25,"v":7},
{"x":-2,"y":0.5,"v":6},{"x":-1.75,"y":0.5,"v":6},{"x":-1.5,"y":0.5,"v":3},{"x":-1.25,"y":0.5,"v":3},{"x":-1,"y":0.5,"v":10},{"x":-0.75,"y":0.5,"v":34},{"x":-0.5,"y":0.5,"v":78},{"x":-0.25,"y":0.5,"v":90},{"x":0,"y":0.5,"v":78},{"x":0.25,"y":0.5,"v":52},{"x":0.5,"y":0.5,"v":28},{"x":0.75,"y":0.5,"v":14},{"x":1,"y":0.5,"v":9},{"x":1.25,"y":0.5,"v":9},{"x":1.5,"y":0.5,"v":10},{"x":1.75,"y":0.5,"v":8},{"x":2,"y":0.5,"v":8},
{"x":-2,"y":0.75,"v":6},{"x":-1.75,"y":0.75,"v":7},{"x":-1.5,"y":0.75,"v":6},{"x":-1.25,"y":0.75,"v":6},{"x":-1,"y":0.75,"v":11},{"x":-0.75,"y":0.75,"v":36},{"x":-0.5,"y":0.75,"v":82},{"x":-0.25,"y":0.75,"v":100},{"x":0,"y":0.75,"v":90},{"x":0.25,"y":0.75,"v":72},{"x":0.5,"y":0.75,"v":50},{"x":0.75,"y":0.75,"v":30},{"x":1,"y":0.75,"v":9},{"x":1.25,"y":0.75,"v":4},{"x":1.5,"y":0.75,"v":8},{"x":1.75,"y":0.75,"v":9},{"x":2,"y":0.75,"v":9},
{"x":-2,"y":1,"v":13},{"x":-1.75,"y":1,"v":10},{"x":-1.5,"y":1,"v":9},{"x":-1.25,"y":1,"v":9},{"x":-1,"y":1,"v":11},{"x":-0.75,"y":1,"v":30},{"x":-0.5,"y":1,"v":74},{"x":-0.25,"y":1,"v":92},{"x":0,"y":1,"v":84},{"x":0.25,"y":1,"v":76},{"x":0.5,"y":1,"v":64},{"x":0.75,"y":1,"v":34},{"x":1,"y":1,"v":11},{"x":1.25,"y":1,"v":3},{"x":1.5,"y":1,"v":7},{"x":1.75,"y":1,"v":16},{"x":2,"y":1,"v":12},
{"x":-2,"y":1.25,"v":28},{"x":-1.75,"y":1.25,"v":20},{"x":-1.5,"y":1.25,"v":13},{"x":-1.25,"y":1.25,"v":12},{"x":-1,"y":1.25,"v":12},{"x":-0.75,"y":1.25,"v":22},{"x":-0.5,"y":1.25,"v":54},{"x":-0.25,"y":1.25,"v":72},{"x":0,"y":1.25,"v":68},{"x":0.25,"y":1.25,"v":62},{"x":0.5,"y":1.25,"v":50},{"x":0.75,"y":1.25,"v":32},{"x":1,"y":1.25,"v":14},{"x":1.25,"y":1.25,"v":8},{"x":1.5,"y":1.25,"v":9},{"x":1.75,"y":1.25,"v":26},{"x":2,"y":1.25,"v":17},
{"x":-2,"y":1.5,"v":58},{"x":-1.75,"y":1.5,"v":36},{"x":-1.5,"y":1.5,"v":24},{"x":-1.25,"y":1.5,"v":24},{"x":-1,"y":1.5,"v":18},{"x":-0.75,"y":1.5,"v":13},{"x":-0.5,"y":1.5,"v":22},{"x":-0.25,"y":1.5,"v":40},{"x":0,"y":1.5,"v":48},{"x":0.25,"y":1.5,"v":36},{"x":0.5,"y":1.5,"v":28},{"x":0.75,"y":1.5,"v":26},{"x":1,"y":1.5,"v":18},{"x":1.25,"y":1.5,"v":13},{"x":1.5,"y":1.5,"v":9},{"x":1.75,"y":1.5,"v":27},{"x":2,"y":1.5,"v":24},
{"x":-2,"y":1.75,"v":80},{"x":-1.75,"y":1.75,"v":56},{"x":-1.5,"y":1.75,"v":30},{"x":-1.25,"y":1.75,"v":27},{"x":-1,"y":1.75,"v":18},{"x":-0.75,"y":1.75,"v":9},{"x":-0.5,"y":1.75,"v":8},{"x":-0.25,"y":1.75,"v":12},{"x":0,"y":1.75,"v":24},{"x":0.25,"y":1.75,"v":14},{"x":0.5,"y":1.75,"v":10},{"x":0.75,"y":1.75,"v":24},{"x":1,"y":1.75,"v":36},{"x":1.25,"y":1.75,"v":22},{"x":1.5,"y":1.75,"v":9},{"x":1.75,"y":1.75,"v":16},{"x":2,"y":1.75,"v":38},
{"x":-2,"y":2,"v":85},{"x":-1.75,"y":2,"v":62},{"x":-1.5,"y":2,"v":28},{"x":-1.25,"y":2,"v":26},{"x":-1,"y":2,"v":14},{"x":-0.75,"y":2,"v":5},{"x":-0.5,"y":2,"v":3},{"x":-0.25,"y":2,"v":8},{"x":0,"y":2,"v":22},{"x":0.25,"y":2,"v":6},{"x":0.5,"y":2,"v":6},{"x":0.75,"y":2,"v":20},{"x":1,"y":2,"v":66},{"x":1.25,"y":2,"v":28},{"x":1.5,"y":2,"v":9},{"x":1.75,"y":2,"v":15},{"x":2,"y":2,"v":62}
]},
"concat":[
{"width":369,"height":282,"data":{"name":"a"},"encoding":{"x":{"field":"x","type":"quantitative","scale":{"domain":[-2,2],"nice":false},"axis":{"values":[-2,-1.5,-1,-0.5,0,0.5,1,1.5,2],"title":"Azimuth /m","labelOverlap":false,"labelExpr":"datum.value==0?'0':format(datum.value,'.1f')","labelPadding":9,"titlePadding":3}},"y":{"field":"y","type":"quantitative","scale":{"domain":[-2,2],"nice":false,"reverse":true},"axis":{"values":[-2,-1.5,-1,-0.5,0,0.5,1,1.5,2],"title":"Range /m","labelOverlap":false,"labelExpr":"datum.value==0?'0':format(datum.value,'.1f')","labelPadding":10,"titlePadding":-1}},"color":{"field":"v","type":"quantitative","legend":null,"scale":{"domain":[0,4,10,15,22,27,33,45,55,68,82,92,100],"range":["#1f2460","#22337f","#1d4fa3","#2765b4","#2a8ccf","#35bfe6","#6cc8bc","#b5d75f","#f4e637","#f6992d","#e82a26","#b81e20","#5a1618"],"interpolate":"rgb"}}},
"layer":[{"mark":{"type":"rect","width":24,"height":18.5,"clip":true}},{"mark":{"type":"rect","width":23.06,"height":17.63,"clip":true,"xOffset":-7.7,"yOffset":-5.9,"opacity":0.5}},{"mark":{"type":"rect","width":23.06,"height":17.63,"clip":true,"xOffset":7.7,"yOffset":-5.9,"opacity":0.3333}},{"mark":{"type":"rect","width":23.06,"height":17.63,"clip":true,"xOffset":-7.7,"yOffset":5.9,"opacity":0.25}},{"mark":{"type":"rect","width":23.06,"height":17.63,"clip":true,"xOffset":7.7,"yOffset":5.9,"opacity":0.2}},{"mark":{"type":"rect","width":23.06,"height":17.63,"clip":true,"xOffset":-7.7,"opacity":0.1667}},{"mark":{"type":"rect","width":23.06,"height":17.63,"clip":true,"xOffset":7.7,"opacity":0.1429}},{"mark":{"type":"rect","width":23.06,"height":17.63,"clip":true,"yOffset":-5.9,"opacity":0.125}},{"mark":{"type":"rect","width":23.06,"height":17.63,"clip":true,"yOffset":5.9,"opacity":0.1111}},{"data":{"name":"la"},"mark":{"type":"text","fontSize":22,"font":"Liberation Serif"},"encoding":{"color":{"value":"white"},"text":{"field":"t"}}}]},
{"width":369,"height":282,"data":{"name":"b"},"encoding":{"x":{"field":"x","type":"quantitative","scale":{"domain":[-2,2],"nice":false},"axis":{"values":[-2,-1.5,-1,-0.5,0,0.5,1,1.5,2],"title":"Azimuth /m","labelOverlap":false,"labelExpr":"datum.value==0?'0':format(datum.value,'.1f')","labelPadding":9,"titlePadding":3}},"y":{"field":"y","type":"quantitative","scale":{"domain":[-2,2],"nice":false,"reverse":true},"axis":{"values":[-2,-1.5,-1,-0.5,0,0.5,1,1.5,2],"title":"Range /m","labelOverlap":false,"labelExpr":"datum.value==0?'0':format(datum.value,'.1f')","labelPadding":10,"titlePadding":-1}},"color":{"field":"v","type":"quantitative","legend":null,"scale":{"domain":[0,4,10,15,22,27,33,45,55,68,82,92,100],"range":["#1f2460","#22337f","#1d4fa3","#2765b4","#2a8ccf","#35bfe6","#6cc8bc","#b5d75f","#f4e637","#f6992d","#e82a26","#b81e20","#5a1618"],"interpolate":"rgb"}}},
"layer":[{"mark":{"type":"rect","width":24,"height":18.5,"clip":true}},{"mark":{"type":"rect","width":23.06,"height":17.63,"clip":true,"xOffset":-7.7,"yOffset":-5.9,"opacity":0.5}},{"mark":{"type":"rect","width":23.06,"height":17.63,"clip":true,"xOffset":7.7,"yOffset":-5.9,"opacity":0.3333}},{"mark":{"type":"rect","width":23.06,"height":17.63,"clip":true,"xOffset":-7.7,"yOffset":5.9,"opacity":0.25}},{"mark":{"type":"rect","width":23.06,"height":17.63,"clip":true,"xOffset":7.7,"yOffset":5.9,"opacity":0.2}},{"mark":{"type":"rect","width":23.06,"height":17.63,"clip":true,"xOffset":-7.7,"opacity":0.1667}},{"mark":{"type":"rect","width":23.06,"height":17.63,"clip":true,"xOffset":7.7,"opacity":0.1429}},{"mark":{"type":"rect","width":23.06,"height":17.63,"clip":true,"yOffset":-5.9,"opacity":0.125}},{"mark":{"type":"rect","width":23.06,"height":17.63,"clip":true,"yOffset":5.9,"opacity":0.1111}},{"data":{"name":"lb"},"mark":{"type":"text","fontSize":22,"font":"Liberation Serif"},"encoding":{"color":{"value":"white"},"text":{"field":"t"}}}]},
{"width":369,"height":282,"data":{"name":"c"},"encoding":{"x":{"field":"x","type":"quantitative","scale":{"domain":[-2,2],"nice":false},"axis":{"values":[-2,-1.5,-1,-0.5,0,0.5,1,1.5,2],"title":"Azimuth /m","labelOverlap":false,"labelExpr":"datum.value==0?'0':format(datum.value,'.1f')","labelPadding":9,"titlePadding":3}},"y":{"field":"y","type":"quantitative","scale":{"domain":[-2,2],"nice":false,"reverse":true},"axis":{"values":[-2,-1.5,-1,-0.5,0,0.5,1,1.5,2],"title":"Range /m","labelOverlap":false,"labelExpr":"datum.value==0?'0':format(datum.value,'.1f')","labelPadding":10,"titlePadding":-1}},"color":{"field":"v","type":"quantitative","legend":null,"scale":{"domain":[0,4,10,15,22,27,33,45,55,68,82,92,100],"range":["#1f2460","#22337f","#1d4fa3","#2765b4","#2a8ccf","#35bfe6","#6cc8bc","#b5d75f","#f4e637","#f6992d","#e82a26","#b81e20","#5a1618"],"interpolate":"rgb"}}},
"layer":[{"mark":{"type":"rect","width":24,"height":18.5,"clip":true}},{"mark":{"type":"rect","width":23.06,"height":17.63,"clip":true,"xOffset":-7.7,"yOffset":-5.9,"opacity":0.5}},{"mark":{"type":"rect","width":23.06,"height":17.63,"clip":true,"xOffset":7.7,"yOffset":-5.9,"opacity":0.3333}},{"mark":{"type":"rect","width":23.06,"height":17.63,"clip":true,"xOffset":-7.7,"yOffset":5.9,"opacity":0.25}},{"mark":{"type":"rect","width":23.06,"height":17.63,"clip":true,"xOffset":7.7,"yOffset":5.9,"opacity":0.2}},{"mark":{"type":"rect","width":23.06,"height":17.63,"clip":true,"xOffset":-7.7,"opacity":0.1667}},{"mark":{"type":"rect","width":23.06,"height":17.63,"clip":true,"xOffset":7.7,"opacity":0.1429}},{"mark":{"type":"rect","width":23.06,"height":17.63,"clip":true,"yOffset":-5.9,"opacity":0.125}},{"mark":{"type":"rect","width":23.06,"height":17.63,"clip":true,"yOffset":5.9,"opacity":0.1111}},{"data":{"name":"lc"},"mark":{"type":"text","fontSize":22,"font":"Liberation Serif"},"encoding":{"color":{"value":"white"},"text":{"field":"t"}}}]},
{"width":369,"height":282,"data":{"name":"d"},"encoding":{"x":{"field":"x","type":"quantitative","scale":{"domain":[-2,2],"nice":false},"axis":{"values":[-2,-1.5,-1,-0.5,0,0.5,1,1.5,2],"title":"Azimuth /m","labelOverlap":false,"labelExpr":"datum.value==0?'0':format(datum.value,'.1f')","labelPadding":9,"titlePadding":3}},"y":{"field":"y","type":"quantitative","scale":{"domain":[-2,2],"nice":false,"reverse":true},"axis":{"values":[-2,-1.5,-1,-0.5,0,0.5,1,1.5,2],"title":"Range /m","labelOverlap":false,"labelExpr":"datum.value==0?'0':format(datum.value,'.1f')","labelPadding":10,"titlePadding":-1}},"color":{"field":"v","type":"quantitative","legend":null,"scale":{"domain":[0,4,10,15,22,27,33,45,55,68,82,92,100],"range":["#1f2460","#22337f","#1d4fa3","#2765b4","#2a8ccf","#35bfe6","#6cc8bc","#b5d75f","#f4e637","#f6992d","#e82a26","#b81e20","#5a1618"],"interpolate":"rgb"}}},
"layer":[{"mark":{"type":"rect","width":24,"height":18.5,"clip":true}},{"mark":{"type":"rect","width":23.06,"height":17.63,"clip":true,"xOffset":-7.7,"yOffset":-5.9,"opacity":0.5}},{"mark":{"type":"rect","width":23.06,"height":17.63,"clip":true,"xOffset":7.7,"yOffset":-5.9,"opacity":0.3333}},{"mark":{"type":"rect","width":23.06,"height":17.63,"clip":true,"xOffset":-7.7,"yOffset":5.9,"opacity":0.25}},{"mark":{"type":"rect","width":23.06,"height":17.63,"clip":true,"xOffset":7.7,"yOffset":5.9,"opacity":0.2}},{"mark":{"type":"rect","width":23.06,"height":17.63,"clip":true,"xOffset":-7.7,"opacity":0.1667}},{"mark":{"type":"rect","width":23.06,"height":17.63,"clip":true,"xOffset":7.7,"opacity":0.1429}},{"mark":{"type":"rect","width":23.06,"height":17.63,"clip":true,"yOffset":-5.9,"opacity":0.125}},{"mark":{"type":"rect","width":23.06,"height":17.63,"clip":true,"yOffset":5.9,"opacity":0.1111}},{"data":{"name":"ld"},"mark":{"type":"text","fontSize":22,"font":"Liberation Serif"},"encoding":{"color":{"value":"white"},"text":{"field":"t"}}}]}
]}
